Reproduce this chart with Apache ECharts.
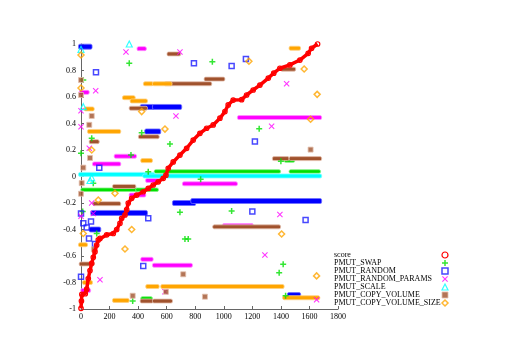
<!DOCTYPE html>
<html><head><meta charset="utf-8">
<script src="https://cdn.jsdelivr.net/npm/echarts@6/dist/echarts.min.js"></script>
<style>html,body{margin:0;padding:0;background:#fff}#c{width:512px;height:361px}</style>
</head><body><div id="c"></div>
<script>
var seriesNames = ['score','PMUT_SWAP','PMUT_RANDOM','PMUT_RANDOM_PARAMS','PMUT_SCALE','PMUT_COPY_VOLUME','PMUT_COPY_VOLUME_SIZE'];
var xTicks = [0,200,400,600,800,1000,1200,1400,1600,1800];
var yTicks = [-1,-0.8,-0.6,-0.4,-0.2,0,0.2,0.4,0.6,0.8,1];

var score = [[0,-0.995],[3,-0.94],[6,-0.89],[30,-0.885],[40,-0.85],[51,-0.77],[63,-0.71],[75,-0.655],[86,-0.61],[98,-0.567],[110,-0.517],[121,-0.479],[133,-0.467],[180,-0.44],[226,-0.43],[250,-0.40],[273,-0.353],[285,-0.316],[308,-0.29],[320,-0.25],[331,-0.20],[355,-0.165],[390,-0.14],[436,-0.115],[471,-0.09],[506,-0.064],[541,-0.04],[576,-0.014],[595,0.01],[611,0.062],[646,0.11],[693,0.162],[740,0.213],[786,0.275],[833,0.326],[880,0.364],[926,0.389],[973,0.44],[1008,0.49],[1031,0.54],[1066,0.577],[1125,0.58],[1160,0.615],[1206,0.653],[1253,0.69],[1312,0.743],[1350,0.78],[1393,0.817],[1463,0.842],[1533,0.879],[1591,0.93],[1615,0.968],[1657,1.0]];

var swapPts = [[338,0.854],[920,0.866],[16,0.728],[75,0.288],[425,0.33],[623,0.245],[350,0.162],[471,0.036],[0,0.175],[1248,0.36],[693,-0.27],[1055,-0.26],[728,-0.472],[751,-0.472],[838,-0.02],[86,-0.05],[110,-0.43],[362,-0.94],[12,-0.265],[1416,-0.663],[1388,-0.726],[1433,-0.90],[1400,0.115]];
var swapSeg = [[16,380,-0.1],[400,525,-0.1],[530,1380,0.038],[1475,1660,0.038],[436,483,-0.92],[1440,1480,0.12]];

var randomPts = [[105,0.786],[791,0.854],[1055,0.834],[1155,0.887],[128,0.066],[1218,0.265],[1200,-0.265],[1573,-0.328],[0,-0.28],[471,-0.316],[16,-0.353],[40,-0.385],[70,-0.34],[56,-0.467],[98,-0.51],[0,-0.756],[436,-0.675]];
var randomSeg = [[0,60,0.98],[432,495,0.525],[518,688,0.525],[464,541,0.34],[86,448,-0.275],[75,121,-0.40],[658,786,-0.2],[786,1668,-0.185],[1463,1521,-0.895]];

var paramsPts = [[315,0.94],[693,0.94],[103,0.648],[0,0.497],[0,0.376],[665,0.457],[58,0.213],[75,-0.2],[86,-0.28],[0,-0.3],[133,-0.78],[588,-0.87],[1393,-0.286],[1288,-0.593],[1650,-0.93],[1440,0.70],[1335,0.379]];
var paramsSeg = [[1113,1668,0.445],[250,371,0.153],[98,261,0.095],[410,440,0.965],[5,40,0.635],[470,540,-0.03],[728,1078,-0.055],[355,436,-0.14],[436,488,-0.625],[518,763,-0.67],[16,50,-0.86],[1008,1190,-0.37]];

var scalePts = [[338,1.0],[16,0.527],[75,-0.01],[0,0.96],[63,-0.03]];
var scaleSeg = [[0,500,0.016],[450,1668,0.004]];

var copyPts = [[75,0.457],[58,0.39],[63,0.14],[16,0.067],[0,0.728],[0,0.615],[1608,0.203],[5,-0.05],[0,-0.13],[90,-0.55],[716,-0.738],[362,-0.90],[595,-0.87],[868,-0.907]];
var copySeg = [[600,898,0.70],[880,990,0.735],[620,680,0.925],[355,448,0.515],[75,110,0.263],[420,530,0.30],[1416,1486,0.81],[1358,1440,0.135],[1475,1668,0.135],[940,1380,-0.38],[238,367,-0.075],[100,261,-0.205],[5,75,-0.66],[432,488,-0.94],[518,623,-0.94]];

var sizePts = [[425,0.49],[588,0.358],[0,0.917],[75,0.2],[0,0.668],[1563,0.811],[1654,0.62],[1608,0.432],[238,-0.127],[121,-0.177],[355,-0.40],[308,-0.547],[16,-0.43],[1650,-0.75],[1405,-0.434],[1176,0.87]];
var sizeSeg = [[63,261,0.34],[455,490,0.70],[518,620,0.70],[308,362,0.595],[362,448,0.57],[40,75,0.51],[436,483,0.12],[1475,1520,0.968],[0,28,-0.515],[28,63,-0.80],[471,530,-0.83],[576,1405,-0.83],[238,320,-0.935],[1430,1655,-0.915]];

var PLUS = 'path://M3,0H5V3H8V5H5V8H3V5H0V3H3Z';
var CROSS = 'path://M0,1L1,0L4,3L7,0L8,1L5,4L8,7L7,8L4,5L1,8L0,7L3,4Z';
var FONT = 'Liberation Serif';

function segSeries(name, data, fill, stroke, h) {
  return {
    name: name, type: 'custom', data: data, encode: {x: [0, 1], y: 2},
    renderItem: function (params, api) {
      var p1 = api.coord([api.value(0), api.value(2)]);
      var p2 = api.coord([api.value(1), api.value(2)]);
      return {type: 'rect', shape: {x: p1[0] - 2.5, y: p1[1] - h / 2, width: p2[0] - p1[0] + 5, height: h, r: 1.5},
        style: {fill: fill, stroke: stroke, lineWidth: 0.8}};
    }
  };
}
function ptSeries(name, data, symbol, size, style) {
  return {name: name, type: 'scatter', data: data, symbol: symbol, symbolSize: size, itemStyle: style};
}

var styles = {
  score: {color: 'rgba(255,255,255,0)', borderColor: '#ff0000', borderWidth: 1.2},
  swap: {color: '#00e000'},
  random: {color: 'rgba(255,255,255,0)', borderColor: '#1a1aff', borderWidth: 1.5},
  params: {color: '#ff00ff'},
  scale: {color: 'rgba(255,255,255,0)', borderColor: '#00ffff', borderWidth: 1.2},
  copy: {color: '#a0522d', borderColor: '#e4c0ae', borderWidth: 1},
  size: {color: 'rgba(255,255,255,0)', borderColor: '#ffa500', borderWidth: 1.5}
};

var chart = echarts.init(document.getElementById('c'), null, {renderer: 'canvas'});
chart.setOption({
  animation: false,
  backgroundColor: '#fff',
  grid: {left: 81, right: 174, top: 44, bottom: 52},
  xAxis: {type: 'value', min: xTicks[0], max: xTicks[xTicks.length - 1], interval: 200,
    axisLine: {onZero: false, lineStyle: {color: '#666', width: 1}},
    axisTick: {inside: true, length: 3, lineStyle: {color: '#666'}},
    splitLine: {show: false},
    axisLabel: {fontFamily: FONT, fontSize: 8, color: '#000', margin: 4,
      formatter: function (v) { return String(v); }}},
  yAxis: {type: 'value', min: yTicks[0], max: yTicks[yTicks.length - 1], interval: 0.2,
    axisLine: {show: true, onZero: false, lineStyle: {color: '#666', width: 1}},
    axisTick: {show: true, inside: true, length: 3, lineStyle: {color: '#666'}},
    splitLine: {show: false},
    axisLabel: {fontFamily: FONT, fontSize: 8, color: '#000', margin: 5}},
  legend: {
    orient: 'vertical', left: 334, top: 251, align: 'right', padding: 0,
    itemWidth: 6, itemHeight: 6, itemGap: 0, itemTextGap: 2,
    textStyle: {fontFamily: FONT, fontSize: 8, color: '#000', lineHeight: 7.8,
      rich: {a: {width: 103, fontFamily: FONT, fontSize: 8, lineHeight: 7.8, align: 'left'}}},
    formatter: function (n) { return '{a|' + n + '}'; },
    selectedMode: false,
    data: [
      {name: seriesNames[0], icon: 'circle', itemStyle: styles.score},
      {name: seriesNames[1], icon: PLUS, itemStyle: styles.swap},
      {name: seriesNames[2], icon: 'rect', itemStyle: styles.random},
      {name: seriesNames[3], icon: CROSS, itemStyle: styles.params},
      {name: seriesNames[4], icon: 'triangle', itemStyle: styles.scale},
      {name: seriesNames[5], icon: 'rect', itemStyle: styles.copy},
      {name: seriesNames[6], icon: 'diamond', itemStyle: styles.size}
    ]
  },
  series: [
    {name: seriesNames[0], type: 'line', data: score, symbol: 'circle', symbolSize: 4.5, showAllSymbol: true,
      itemStyle: styles.score, lineStyle: {color: '#ff0000', width: 3.5}},
    ptSeries(seriesNames[1], swapPts, PLUS, 6, styles.swap),
    segSeries(seriesNames[1], swapSeg, '#00e000', '#80f080', 3.5),
    ptSeries(seriesNames[2], randomPts, 'rect', 5, styles.random),
    segSeries(seriesNames[2], randomSeg, '#0000ff', '#7070ff', 5),
    ptSeries(seriesNames[3], paramsPts, CROSS, 6, styles.params),
    segSeries(seriesNames[3], paramsSeg, '#ff00ff', '#ff90ff', 4),
    ptSeries(seriesNames[4], scalePts, 'triangle', 6, styles.scale),
    segSeries(seriesNames[4], scaleSeg, '#00ffff', '#80ffff', 4),
    ptSeries(seriesNames[5], copyPts, 'rect', 5, styles.copy),
    segSeries(seriesNames[5], copySeg, '#a0522d', '#e4c0ae', 4),
    ptSeries(seriesNames[6], sizePts, 'diamond', 6, styles.size),
    segSeries(seriesNames[6], sizeSeg, '#ffa500', '#ffd080', 4)
  ]
});
</script></body></html>
